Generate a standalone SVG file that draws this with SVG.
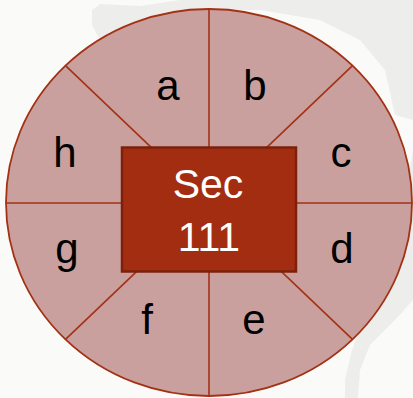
<svg xmlns="http://www.w3.org/2000/svg" width="413" height="398" viewBox="0 0 413 398">
<style>
.lbl{font-family:"Century Gothic","Liberation Sans",Arial,sans-serif;font-size:42px;fill:#000;text-anchor:middle}
.sec{font-family:"Century Gothic","Liberation Sans",Arial,sans-serif;font-size:41px;fill:#fff;text-anchor:middle}
.div{stroke:#a33114;stroke-width:1.6;fill:none}
</style>
<rect width="413" height="398" fill="#fafaf8"/>
<g id="background" fill="#ededeb">
<path d="M92 10 L100 4 L140 6 L180 0 L413 0 L413 120 L395 115 L385 70 L360 40 L320 20 L260 10 L200 10 L140 20 L100 40 L92 25 Z"/>
<path d="M413 150 L405 200 L400 260 L385 300 L360 330 L352 350 L345 380 L345 398 L358 398 L360 370 L370 345 L395 320 L413 300 Z"/>
</g>
<g id="wheel">
<ellipse cx="209" cy="202.5" rx="203" ry="193.5" fill="#caa09e" stroke="#a33114" stroke-width="1.8"/>
</g>
<g id="connectors" class="div">
<line x1="209" y1="9" x2="209" y2="396"/>
<line x1="6" y1="203" x2="412" y2="203"/>
<line x1="65.5" y1="65.7" x2="352.5" y2="339.3"/>
<line x1="352.5" y1="65.7" x2="65.5" y2="339.3"/>
</g>
<g id="center">
<rect x="122" y="147.5" width="174" height="124" fill="#a32d10" stroke="#7c200c" stroke-width="2.5"/>
<text class="sec" x="208" y="198">Sec</text>
<text class="sec" x="209" y="251">111</text>
</g>
<g id="a"><text class="lbl" x="168" y="100">a</text></g>
<g id="b"><text class="lbl" x="255" y="100">b</text></g>
<g id="c"><text class="lbl" x="341" y="167">c</text></g>
<g id="d"><text class="lbl" x="342" y="263">d</text></g>
<g id="e"><text class="lbl" x="254" y="334">e</text></g>
<g id="f"><text class="lbl" x="147" y="334">f</text></g>
<g id="g"><text class="lbl" x="67" y="263">g</text></g>
<g id="h"><text class="lbl" x="65" y="167">h</text></g>
</svg>
